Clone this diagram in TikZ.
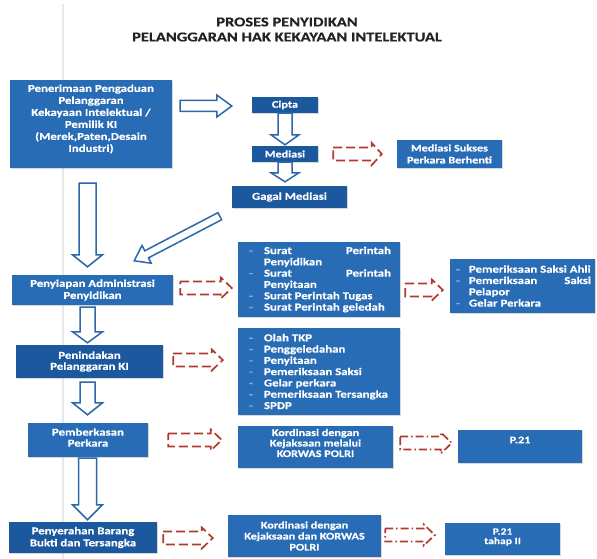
\documentclass[tikz,border=0pt]{standalone}
\usepackage{fontspec}
\newfontfamily\cfont[FakeStretch=1.22,FakeBold=0.5]{Carlito}
\usetikzlibrary{calc,shadows}
\definecolor{boxA}{RGB}{40,108,182}
\definecolor{boxB}{RGB}{28,88,158}
\definecolor{arrB}{RGB}{46,104,170}
\definecolor{arrR}{RGB}{178,58,44}
\definecolor{dashc}{RGB}{140,172,212}
\definecolor{titc}{RGB}{35,35,35}
\definecolor{faintc}{RGB}{228,233,240}
\newcommand\up[3]{\raisebox{#1}[\height][\depth]{\parbox[c]{#2}{\centering #3}}}
\newlength\liind
\newcommand\listinit[1]{\tolerance=10000\relax\hyphenpenalty=10000\relax\hbadness=10000\relax
  \emergencystretch=0pt\relax\setlength\liind{#1}}
\newcommand\li[1]{\hangindent=\liind\relax\hangafter=1\relax\noindent\makebox[\liind][l]{\hspace{2pt}\color{dashc}-}#1\par}
% block arrow: [style]{from}{to}{half shaft}{half head}{head length}
\newcommand\blockarrow[6][]{%
  \coordinate (baA) at (#2);
  \coordinate (baB) at (#3);
  \coordinate (baC) at ($(baB)!#6!(baA)$);
  \draw[#1] ($(baA)!#4!90:(baB)$) -- ($(baC)!#4!-90:(baA)$) -- ($(baC)!#5!-90:(baA)$)
    -- (baB) -- ($(baC)!#5!90:(baA)$) -- ($(baC)!#4!90:(baA)$) -- ($(baA)!#4!-90:(baB)$) -- cycle;
}
\tikzset{
  box/.style={rectangle, fill=boxA, text=white, inner sep=0pt, align=center,
    font=\cfont\bfseries\fontsize{10}{11}\selectfont,
    drop shadow={shadow xshift=1.2pt, shadow yshift=-1.2pt, opacity=.25, fill=black!60}},
  dbox/.style={box, fill=boxB},
  big/.style={font=\cfont\bfseries\fontsize{10.5}{12}\selectfont},
  list/.style={box, align=justify, text width=144pt,
    font=\cfont\bfseries\fontsize{10.5}{11.3}\selectfont},
  harrow/.style={draw=arrB, fill=white, line width=1.5pt, line join=miter},
  rarrow/.style={draw=arrR, line width=1.7pt, dash pattern=on 9pt off 4pt},
  rdarrow/.style={draw=arrR, line width=1.7pt, dash pattern=on 8pt off 3pt on 1.5pt off 3pt},
}
\begin{document}
\begin{tikzpicture}[x=1pt, y=-1pt]
\useasboundingbox (0,0) rectangle (597,559);
\fill[white] (0,0) rectangle (597,559);
\draw[faintc, line width=1.2pt] (63,4) -- (63,559);

\node[text=titc, align=center, font=\cfont\bfseries\fontsize{13.5}{15}\selectfont] (title) at (287,29.5)
  {PROSES PENYIDIKAN\\PELANGGARAN HAK KEKAYAAN INTELEKTUAL};

\node[box, big, minimum width=162pt, minimum height=88pt] (box1) at (91,124)
  {\up{5pt}{150pt}{Penerimaan Pengaduan\\Pelanggaran\\Kekayaan Intelektual /\\Pemilik KI\\(Merek,Paten,Desain\\Industri)}};
\node[dbox, minimum width=66pt, minimum height=16pt] (cipta) at (285,105) {Cipta};
\node[dbox, minimum width=66pt, minimum height=16pt] (mediasi) at (285,154) {Mediasi};
\node[box, font=\cfont\bfseries\fontsize{10}{12}\selectfont, minimum width=105pt, minimum height=28pt] (sukses) at (449.5,154) {Mediasi Sukses\\Perkara Berhenti};
\node[dbox, big, minimum width=115pt, minimum height=22pt] (gagal) at (289.5,197) {Gagal Mediasi};
\node[box, big, minimum width=161pt, minimum height=30pt] (penyiapan) at (92.5,290) {Penyiapan Administrasi\\Penyidikan};
\node[list, minimum width=162pt, minimum height=75pt] (surat) at (319,279.5)
  {\listinit{17pt}\li{Surat Perintah Penyidikan}\li{Surat Perintah Penyitaan}\li{Surat Perintah Tugas}\li{Surat Perintah geledah}};
\node[list, text width=137pt, minimum width=145pt, minimum height=54pt] (periksa) at (522.5,286)
  {\listinit{15pt}\li{Pemeriksaan Saksi Ahli}\li{Pemeriksaan Saksi Pelapor}\li{Gelar Perkara}};
\node[dbox, font=\cfont\bfseries\fontsize{10.5}{11}\selectfont, minimum width=147pt, minimum height=33pt] (penindakan) at (89.5,361.5) {Penindakan\\Pelanggaran KI};
\node[list, minimum width=162pt, minimum height=87pt] (olah) at (319,371.5)
  {\listinit{17pt}\li{Olah TKP}\li{Penggeledahan}\li{Penyitaan}\li{Pemeriksaan Saksi}\li{Gelar perkara}\li{Pemeriksaan Tersangka}\li{SPDP}};
\node[box, font=\cfont\bfseries\fontsize{10.5}{11}\selectfont, minimum width=120pt, minimum height=34pt] (pemberkasan) at (88,440) {\up{2.5pt}{110pt}{Pemberkasan\\Perkara}};
\node[box, font=\cfont\bfseries\fontsize{10}{10.5}\selectfont, minimum width=155pt, minimum height=42pt] (kord1) at (315.5,447) {\up{4pt}{150pt}{Kordinasi dengan\\Kejaksaan melalui\\KORWAS POLRI}};
\node[box, minimum width=124pt, minimum height=33pt] (p21) at (520,446.5) {\up{6.5pt}{110pt}{P.21}};
\node[dbox, big, minimum width=148pt, minimum height=31pt] (penyerahan) at (83,537.5) {Penyerahan Barang\\Bukti dan Tersangka};
\node[box, minimum width=153pt, minimum height=42pt] (kord2) at (304.5,536) {Kordinasi dengan\\Kejaksaan dan KORWAS\\POLRI};
\node[box, font=\cfont\bfseries\fontsize{9.5}{9.5}\selectfont, minimum width=115pt, minimum height=32pt] (p21b) at (502.5,539) {\up{2pt}{100pt}{P.21\\tahap II}};

% hollow blue arrows
\blockarrow[harrow]{$(box1.east|-cipta.west)+(8,1)$}{$(cipta.west)+(-20,1)$}{5.5pt}{11pt}{15pt}
\blockarrow[harrow]{cipta.south}{$(mediasi.north)+(0,-1)$}{7pt}{14pt}{10pt}
\blockarrow[harrow]{mediasi.south}{$(gagal.north)+(-4.5,-4)$}{7pt}{14pt}{9pt}
\blockarrow[harrow]{$(gagal.south west)+(-12,8)$}{$(penyiapan.north east)+(-39,-14)$}{4pt}{10pt}{14pt}
\blockarrow[harrow]{$(box1.south)+(-3.5,15)$}{$(penyiapan.north)+(-5,-8)$}{8.5pt}{15pt}{12pt}
\blockarrow[harrow]{$(penyiapan.south)+(-5,2)$}{$(penindakan.north)+(-2,-2)$}{7.5pt}{15pt}{11pt}
\blockarrow[harrow]{$(penindakan.south)+(-2,4)$}{$(pemberkasan.north)+(-0.5,-8)$}{7.5pt}{15pt}{12pt}
\blockarrow[harrow]{$(pemberkasan.south)+(-0.5,1)$}{$(penyerahan.north)+(4.5,-2)$}{9pt}{15pt}{15pt}

% dashed red arrows
\blockarrow[rarrow]{$(mediasi.east)+(15,0)$}{$(sukses.west)+(-15,0)$}{6.5pt}{11pt}{10pt}
\blockarrow[rarrow]{$(penyiapan.east)+(7,-2)$}{$(surat.west|-penyiapan.east)+(-6,-2)$}{6.5pt}{10.5pt}{11pt}
\blockarrow[rarrow]{$(surat.east|-periksa.west)+(5,4)$}{$(periksa.west)+(-7,4)$}{6.5pt}{10.5pt}{11pt}
\blockarrow[rarrow]{$(penindakan.east)+(10,-1.5)$}{$(olah.west|-penindakan.east)+(-15,-1.5)$}{6.5pt}{10.5pt}{11pt}
\blockarrow[rarrow]{$(pemberkasan.east)+(20,0)$}{$(kord1.west|-pemberkasan.east)+(-16,0)$}{6.5pt}{10.5pt}{11pt}
\blockarrow[rarrow]{$(penyerahan.east)+(6,0.5)$}{$(kord2.west|-penyerahan.east)+(-15,0.5)$}{6.5pt}{10.5pt}{11pt}
\blockarrow[rdarrow]{$(kord1.east)+(7,-4)$}{$(p21.west|-kord1.east)+(-6,-4)$}{6.5pt}{10.5pt}{11pt}
\blockarrow[rdarrow]{$(kord2.east)+(4,-1)$}{$(p21b.west|-kord2.east)+(-10,-1)$}{6.5pt}{10.5pt}{11pt}
\end{tikzpicture}
\end{document}
